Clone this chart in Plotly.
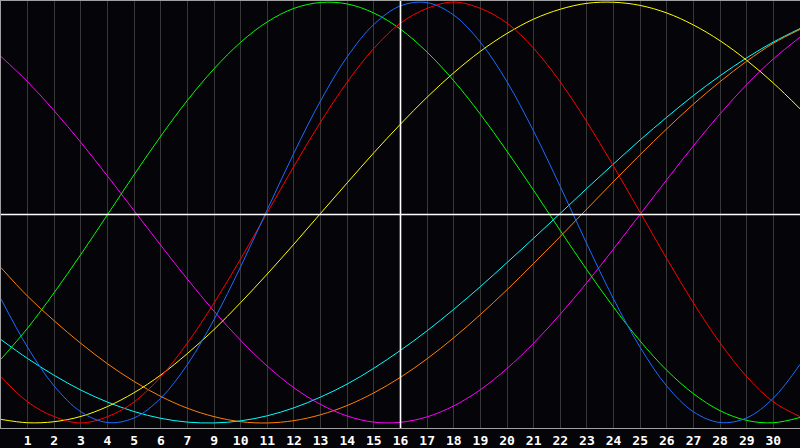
import plotly.graph_objects as go

days = list(range(0, 31))
tick_pos = list(range(1, 30))
tick_labels = ["1", "2", "3", "4", "5", "6", "7", "9", "10", "11", "12", "13", "14", "15",
               "16", "17", "18", "19", "20", "21", "22", "23", "24", "25", "26", "27", "28", "29", "30"]
today = 15

red = [-0.78, -0.90, -0.97, -1.00, -0.97, -0.90, -0.78, -0.62, -0.43, -0.22, 0.00,
       0.22, 0.43, 0.62, 0.78, 0.90, 0.97, 1.00, 0.97, 0.90, 0.78, 0.62, 0.43, 0.22,
       0.00, -0.22, -0.43, -0.62, -0.78, -0.90, -0.97]
green = [-0.697, -0.549, -0.380, -0.199, -0.010, 0.180, 0.363, 0.533, 0.683, 0.809, 0.906,
         0.970, 0.998, 0.991, 0.948, 0.871, 0.762, 0.626, 0.467, 0.291, 0.105, -0.086,
         -0.273, -0.450, -0.611, -0.750, -0.861, -0.942, -0.988, -0.999, -0.974]
blue = [-0.411, -0.641, -0.825, -0.947, -0.998, -0.976, -0.882, -0.722, -0.508, -0.257, 0.014,
        0.283, 0.531, 0.740, 0.894, 0.982, 0.997, 0.938, 0.809, 0.621, 0.386, 0.123,
        -0.150, -0.411, -0.641, -0.825, -0.947, -0.998, -0.976, -0.882, -0.722]
yellow = [-0.983, -0.999, -0.994, -0.969, -0.922, -0.856, -0.772, -0.670, -0.556, -0.428, -0.292,
          -0.150, -0.004, 0.141, 0.284, 0.420, 0.548, 0.664, 0.766, 0.851, 0.919, 0.966,
          0.994, 0.999, 0.984, 0.948, 0.891, 0.816, 0.723, 0.615, 0.493]
cyan = [-0.604, -0.694, -0.774, -0.844, -0.901, -0.946, -0.978, -0.996, -1.000, -0.990, -0.966,
        -0.928, -0.877, -0.815, -0.740, -0.655, -0.562, -0.460, -0.352, -0.238, -0.122, -0.004,
        0.115, 0.231, 0.345, 0.453, 0.556, 0.650, 0.735, 0.810, 0.874]
orange = [-0.262, -0.398, -0.515, -0.622, -0.719, -0.803, -0.874, -0.930, -0.970, -0.994, -1.000,
          -0.989, -0.961, -0.917, -0.857, -0.783, -0.695, -0.595, -0.485, -0.367, -0.242, -0.114,
          0.017, 0.147, 0.275, 0.398, 0.515, 0.622, 0.719, 0.804, 0.870]
magenta = [0.741, 0.621, 0.483, 0.333, 0.173, 0.008, -0.156, -0.317, -0.469, -0.608, -0.730,
           -0.833, -0.912, -0.967, -0.996, -0.997, -0.971, -0.919, -0.842, -0.741, -0.621, -0.483,
           -0.333, -0.173, -0.008, 0.156, 0.317, 0.469, 0.608, 0.730, 0.833]

series = [
    ("cyan", cyan, "#00ffff"),
    ("orange", orange, "#ff8000"),
    ("magenta", magenta, "#ff00ff"),
    ("yellow", yellow, "#ffff00"),
    ("green", green, "#00ff00"),
    ("red", red, "#ff0000"),
    ("blue", blue, "#1a6cff"),
]

fig = go.Figure()
for name, vals, col in series:
    fig.add_trace(go.Scatter(x=days, y=vals, mode="lines", name=name,
                             line=dict(color=col, width=1, shape="spline", smoothing=1),
                             hoverinfo="skip"))

fig.add_shape(type="line", xref="x", yref="paper", x0=today, x1=today, y0=0, y1=1,
              line=dict(color="#ffffff", width=1.6), layer="above")
fig.add_shape(type="line", xref="paper", yref="paper", x0=0, x1=1, y0=0.5, y1=0.5,
              line=dict(color="#ffffff", width=1.6), layer="above")

fig.update_layout(
    width=800, height=448,
    margin=dict(l=1, r=0, t=1, b=20),
    paper_bgcolor="#050408",
    plot_bgcolor="#050408",
    showlegend=False,
    font=dict(family="DejaVu Sans Mono", color="#ffffff", size=11),
    xaxis=dict(range=[0, 30], tickvals=tick_pos, ticktext=tick_labels,
               showgrid=True, gridcolor="#383838", gridwidth=1,
               zeroline=False, showline=True, linecolor="#a0a0a0", linewidth=1, mirror=True,
               ticks="", ticklen=0,
               tickfont=dict(family="DejaVu Sans Mono", size=13, color="#ffffff", weight="bold"),
               fixedrange=True),
    yaxis=dict(range=[-1.024, 1.005], showgrid=False, zeroline=False, showticklabels=False,
               showline=True, linecolor="#a0a0a0", linewidth=1, ticks="", fixedrange=True),
)

fig.write_html("out.html", config={"displayModeBar": False},
               post_script="document.body.style.margin='0';document.body.style.background='#050408';document.body.style.overflow='hidden';")
